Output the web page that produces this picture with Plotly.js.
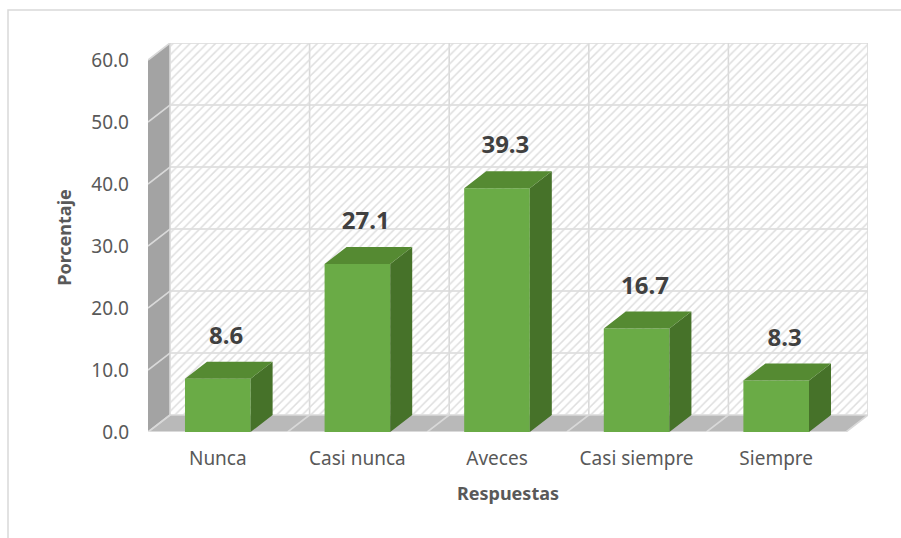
<!DOCTYPE html>
<html>
<head>
<meta charset="utf-8">
<script src="https://cdn.plot.ly/plotly-3.0.1.min.js"></script>
<style>html,body{margin:0;padding:0;background:#fff;}</style>
</head>
<body>
<div id="chart" style="width:901px;height:538px;"></div>
<script>
// ---- data ----
const categories = ['Nunca', 'Casi nunca', 'Aveces', 'Casi siempre', 'Siempre'];
const values = [8.6, 27.1, 39.3, 16.7, 8.3];
const yTicks = [0, 10, 20, 30, 40, 50, 60];
const yMax = 60;

// ---- layout geometry (style constants) ----
const W = 901, H = 538;
const M = {l: 148, r: 33, t: 43, b: 106};
const plotW = W - M.l - M.r, plotH = H - M.t - M.b;
const depthX = 22, depthY = 17;               // 3D depth offset in px
const nCat = categories.length;
const catPx = (plotW - depthX) / nCat;
const dx = depthX / catPx;                     // depth in x data units
const pxPerUnit = (plotH - depthY) / yMax;
const dy = depthY / pxPerUnit;                 // depth in y data units
const barW = 0.47;
const xL = -0.5, xR = nCat - 0.5;

const gridColor = '#d9d9d9';

// ---- shapes: walls, floor, grid ----
const shapes = [];
shapes.push({type: 'path', xref: 'x', yref: 'y', layer: 'below',
  path: `M ${xL},0 L ${xL+dx},${dy} L ${xL+dx},${yMax+dy} L ${xL},${yMax} Z`,
  fillcolor: '#a3a3a3', line: {width: 0}});
shapes.push({type: 'path', xref: 'x', yref: 'y', layer: 'below',
  path: `M ${xL},0 L ${xR},0 L ${xR+dx},${dy} L ${xL+dx},${dy} Z`,
  fillcolor: '#b9b9b9', line: {width: 0}});
yTicks.forEach(t => {
  shapes.push({type: 'path', xref: 'x', yref: 'y', layer: 'below',
    path: `M ${xL},${t} L ${xL+dx},${t+dy} L ${xR+dx},${t+dy}`,
    line: {color: gridColor, width: 1.6}});
});
for (let k = 0; k <= nCat; k++) {
  const xb = xL + k;
  shapes.push({type: 'path', xref: 'x', yref: 'y', layer: 'below',
    path: `M ${xb},0 L ${xb+dx},${dy} L ${xb+dx},${yMax+dy}`,
    line: {color: gridColor, width: 1.6}});
}
// floor front edge
shapes.push({type: 'line', xref: 'x', yref: 'y', layer: 'below',
  x0: xL, x1: xR, y0: 0, y1: 0, line: {color: '#e6e6e6', width: 1.5}});
// outer chart border
shapes.push({type: 'rect', xref: 'paper', yref: 'paper', layer: 'above',
  x0: (8 - M.l) / plotW, x1: (W + 6 - M.l) / plotW,
  y0: -(H + 6 - M.t - plotH) / plotH, y1: 1 + (M.t - 10) / plotH,
  line: {color: '#d9d9d9', width: 1.5}, fillcolor: 'rgba(0,0,0,0)'});

// ---- traces ----
const xs = categories.map((c, i) => i);

const backWall = {
  type: 'bar', x: [(xL + xR) / 2 + dx], y: [yMax], base: [dy], width: [nCat],
  marker: {color: 'rgba(0,0,0,0)', line: {width: 0},
    pattern: {shape: '/', fgcolor: '#dedede', bgcolor: 'rgba(0,0,0,0)', size: 6, solidity: 0.25}},
  hoverinfo: 'skip', showlegend: false
};

const bars = {
  type: 'bar', x: xs, y: values, width: barW,
  marker: {color: '#6aab46', line: {width: 0}},
  hoverinfo: 'skip', showlegend: false
};

const sideX = [], sideY = [], topX = [], topY = [];
values.forEach((v, i) => {
  const r = i + barW / 2, l = i - barW / 2;
  sideX.push(r, r + dx, r + dx, r, null);
  sideY.push(0, dy, v + dy, v, null);
  topX.push(l, r, r + dx, l + dx, null);
  topY.push(v, v, v + dy, v + dy, null);
});
const sides = {type: 'scatter', mode: 'lines', x: sideX, y: sideY, fill: 'toself',
  fillcolor: '#467229', line: {width: 0}, hoverinfo: 'skip', showlegend: false};
const tops = {type: 'scatter', mode: 'lines', x: topX, y: topY, fill: 'toself',
  fillcolor: '#558a32', line: {width: 0}, hoverinfo: 'skip', showlegend: false};

const labels = {
  type: 'scatter', mode: 'text',
  x: xs.map(i => i + 0.06), y: values.map(v => v + 6.6),
  text: values.map(v => v.toFixed(1)),
  textposition: 'middle center',
  textfont: {family: 'Noto Sans, sans-serif', size: 24, color: '#404040', weight: 'bold'},
  hoverinfo: 'skip', showlegend: false
};

const layout = {
  width: W, height: H,
  margin: {l: M.l, r: M.r, t: M.t, b: M.b},
  paper_bgcolor: '#ffffff', plot_bgcolor: '#ffffff',
  barmode: 'overlay',
  showlegend: false,
  font: {family: 'Noto Sans, sans-serif', color: '#595959'},
  xaxis: {
    type: 'linear', range: [xL, xR + dx], fixedrange: true,
    tickvals: xs, ticktext: categories,
    showgrid: false, zeroline: false, showline: false, ticks: '',
    tickfont: {size: 19, color: '#595959'}, ticklabelstandoff: 13,
    title: {text: 'Respuestas', font: {size: 18, color: '#595959', weight: 'bold'}, standoff: 17}
  },
  yaxis: {
    range: [0, yMax + dy], fixedrange: true,
    tickvals: yTicks, ticktext: yTicks.map(t => t.toFixed(1)),
    showgrid: false, zeroline: false, showline: false, ticks: '',
    tickfont: {size: 19, color: '#595959'}, ticklabelstandoff: 18,
    title: {text: 'Porcentaje', font: {size: 18, color: '#595959', weight: 'bold'}, standoff: 14}
  },
  shapes: shapes
};

Plotly.newPlot('chart', [backWall, bars, sides, tops, labels], layout, {displayModeBar: false, staticPlot: true});
</script>
</body>
</html>
